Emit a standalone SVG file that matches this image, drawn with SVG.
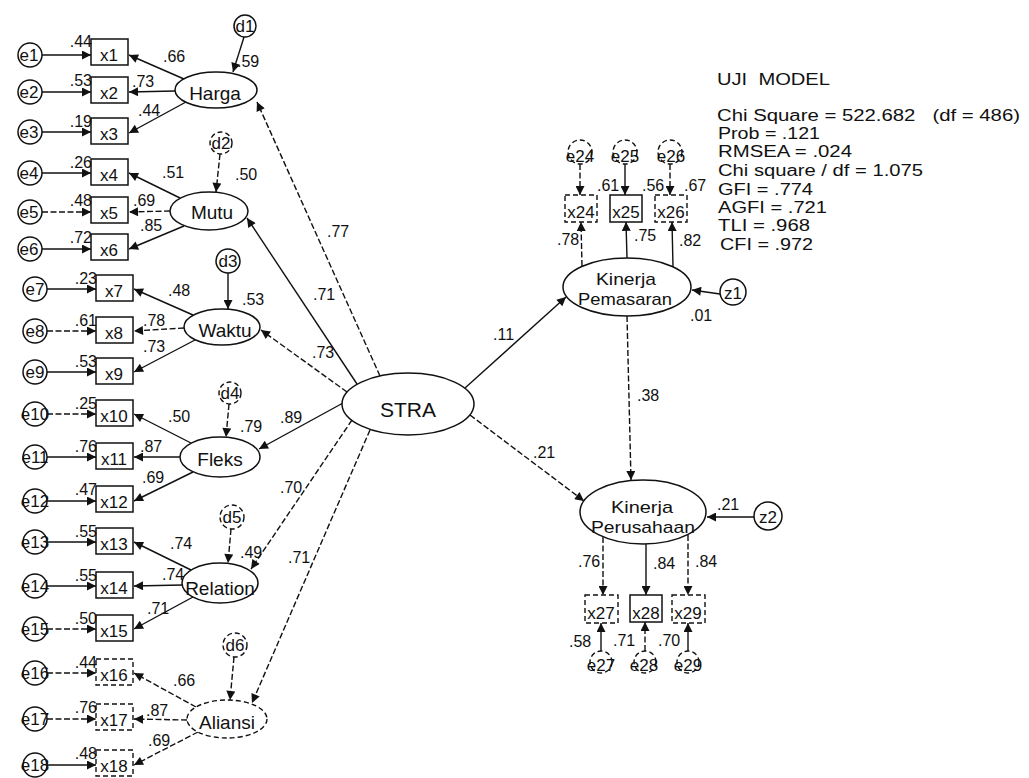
<svg xmlns="http://www.w3.org/2000/svg" width="1029" height="778" viewBox="0 0 1029 778">
<defs>
<marker id="ah" viewBox="0 0 10 10" refX="10" refY="5" markerWidth="12" markerHeight="9" markerUnits="userSpaceOnUse" orient="auto"><path d="M0,0 L10,5 L0,10 z" fill="#111"/></marker>
<style>
.ln{stroke:#111;stroke-width:1.4;fill:none}
.dash{stroke-dasharray:6 2.5}
.nd{fill:#fff;stroke:#111;stroke-width:1.5}
.ndd{fill:#fff;stroke:#111;stroke-width:1.4;stroke-dasharray:5 3}
text{font-family:"Liberation Sans",Arial,sans-serif;fill:#111}
.lb{font-size:16px}
.bx{font-size:17px;text-anchor:middle}
.nm{font-size:19px;text-anchor:middle}
.nm2{font-size:17px;text-anchor:middle}
.st{font-size:16px}
.end{text-anchor:end}
</style>
</defs>
<rect width="1029" height="778" fill="#fff"/>

<g id="connectors">
<!-- error to indicator -->
<line class="ln" x1="42" y1="55" x2="91" y2="55" marker-end="url(#ah)"/>
<line class="ln" x1="42" y1="92" x2="91" y2="92" marker-end="url(#ah)"/>
<line class="ln" x1="42" y1="132" x2="91" y2="132" marker-end="url(#ah)"/>
<line class="ln" x1="42" y1="173" x2="91" y2="173" marker-end="url(#ah)"/>
<line class="ln dash" x1="42" y1="212" x2="91" y2="212" marker-end="url(#ah)"/>
<line class="ln" x1="42" y1="249" x2="91" y2="249" marker-end="url(#ah)"/>
<line class="ln" x1="47" y1="289" x2="96" y2="289" marker-end="url(#ah)"/>
<line class="ln dash" x1="47" y1="331" x2="96" y2="331" marker-end="url(#ah)"/>
<line class="ln" x1="47" y1="372" x2="96" y2="372" marker-end="url(#ah)"/>
<line class="ln dash" x1="47" y1="414" x2="96" y2="414" marker-end="url(#ah)"/>
<line class="ln" x1="47" y1="457" x2="96" y2="457" marker-end="url(#ah)"/>
<line class="ln" x1="47" y1="501" x2="96" y2="501" marker-end="url(#ah)"/>
<line class="ln" x1="47" y1="542" x2="96" y2="542" marker-end="url(#ah)"/>
<line class="ln" x1="47" y1="586" x2="96" y2="586" marker-end="url(#ah)"/>
<line class="ln dash" x1="47" y1="629" x2="96" y2="629" marker-end="url(#ah)"/>
<line class="ln dash" x1="47" y1="673" x2="96" y2="673" marker-end="url(#ah)"/>
<line class="ln dash" x1="47" y1="719" x2="96" y2="719" marker-end="url(#ah)"/>
<line class="ln" x1="47" y1="765" x2="96" y2="765" marker-end="url(#ah)"/>
<!-- latent to indicators -->
<line class="ln" x1="184" y1="79" x2="129" y2="55" marker-end="url(#ah)"/>
<line class="ln" x1="175" y1="91" x2="129" y2="92" marker-end="url(#ah)"/>
<line class="ln" x1="186" y1="102" x2="129" y2="133" marker-end="url(#ah)"/>
<line class="ln" x1="180" y1="198" x2="129" y2="173" marker-end="url(#ah)"/>
<line class="ln dash" x1="170" y1="211" x2="129" y2="212" marker-end="url(#ah)"/>
<line class="ln" x1="184" y1="226" x2="129" y2="249" marker-end="url(#ah)"/>
<line class="ln" x1="193" y1="315" x2="134" y2="289" marker-end="url(#ah)"/>
<line class="ln dash" x1="184" y1="328" x2="134" y2="331" marker-end="url(#ah)"/>
<line class="ln" x1="195" y1="340" x2="134" y2="372" marker-end="url(#ah)"/>
<line class="ln" x1="191" y1="443" x2="134" y2="414" marker-end="url(#ah)"/>
<line class="ln" x1="180" y1="457" x2="134" y2="457" marker-end="url(#ah)"/>
<line class="ln" x1="193" y1="472" x2="134" y2="501" marker-end="url(#ah)"/>
<line class="ln" x1="191" y1="570" x2="134" y2="542" marker-end="url(#ah)"/>
<line class="ln" x1="182" y1="585" x2="134" y2="586" marker-end="url(#ah)"/>
<line class="ln" x1="193" y1="597" x2="134" y2="629" marker-end="url(#ah)"/>
<line class="ln dash" x1="196" y1="707" x2="134" y2="673" marker-end="url(#ah)"/>
<line class="ln dash" x1="187" y1="720" x2="134" y2="719" marker-end="url(#ah)"/>
<line class="ln dash" x1="198" y1="732" x2="134" y2="765" marker-end="url(#ah)"/>
<!-- disturbances -->
<line class="ln" x1="244" y1="37" x2="233" y2="72" marker-end="url(#ah)"/>
<line class="ln dash" x1="220" y1="154" x2="216" y2="192" marker-end="url(#ah)"/>
<line class="ln" x1="228" y1="273" x2="228" y2="309" marker-end="url(#ah)"/>
<line class="ln dash" x1="229" y1="404" x2="226" y2="437" marker-end="url(#ah)"/>
<line class="ln dash" x1="231" y1="529" x2="228" y2="563" marker-end="url(#ah)"/>
<line class="ln dash" x1="234" y1="657" x2="230" y2="700" marker-end="url(#ah)"/>
<!-- STRA structural paths -->
<line class="ln dash" x1="380" y1="376" x2="257" y2="102" marker-end="url(#ah)"/>
<line class="ln" x1="357" y1="384" x2="247" y2="218" marker-end="url(#ah)"/>
<line class="ln dash" x1="347" y1="392" x2="261" y2="330" marker-end="url(#ah)"/>
<line class="ln" x1="343" y1="403" x2="259" y2="449" marker-end="url(#ah)"/>
<line class="ln dash" x1="352" y1="420" x2="251" y2="569" marker-end="url(#ah)"/>
<line class="ln dash" x1="370" y1="430" x2="252" y2="703" marker-end="url(#ah)"/>
<line class="ln" x1="465" y1="388" x2="566" y2="297" marker-end="url(#ah)"/>
<line class="ln dash" x1="470" y1="415" x2="584" y2="501" marker-end="url(#ah)"/>
<line class="ln dash" x1="627" y1="316" x2="631" y2="480" marker-end="url(#ah)"/>
<line class="ln" x1="720" y1="294" x2="692" y2="290" marker-end="url(#ah)"/>
<line class="ln" x1="754" y1="517" x2="707" y2="517" marker-end="url(#ah)"/>
<!-- Kinerja Pemasaran indicators -->
<line class="ln dash" x1="582" y1="266" x2="581" y2="222" marker-end="url(#ah)"/>
<line class="ln" x1="627" y1="258" x2="626" y2="222" marker-end="url(#ah)"/>
<line class="ln" x1="673" y1="267" x2="672" y2="222" marker-end="url(#ah)"/>
<line class="ln dash" x1="580" y1="164" x2="580" y2="195" marker-end="url(#ah)"/>
<line class="ln" x1="625" y1="164" x2="625" y2="195" marker-end="url(#ah)"/>
<line class="ln dash" x1="670" y1="164" x2="670" y2="195" marker-end="url(#ah)"/>
<!-- Kinerja Perusahaan indicators -->
<line class="ln dash" x1="603" y1="537" x2="603" y2="595" marker-end="url(#ah)"/>
<line class="ln" x1="646" y1="544" x2="646" y2="595" marker-end="url(#ah)"/>
<line class="ln dash" x1="688" y1="535" x2="688" y2="595" marker-end="url(#ah)"/>
<line class="ln" x1="601" y1="651" x2="601" y2="623" marker-end="url(#ah)"/>
<line class="ln dash" x1="645" y1="651" x2="645" y2="622" marker-end="url(#ah)"/>
<line class="ln" x1="688" y1="651" x2="688" y2="623" marker-end="url(#ah)"/>
</g>

<g id="errors-left">
<g id="e1"><circle class="nd" cx="30" cy="55" r="12"/><text class="bx" x="29" y="61">e1</text></g>
<g id="e2"><circle class="nd" cx="30" cy="92" r="12"/><text class="bx" x="29" y="98">e2</text></g>
<g id="e3"><circle class="nd" cx="30" cy="132" r="12"/><text class="bx" x="29" y="138">e3</text></g>
<g id="e4"><circle class="nd" cx="30" cy="173" r="12"/><text class="bx" x="29" y="179">e4</text></g>
<g id="e5"><circle class="nd" cx="30" cy="212" r="12"/><text class="bx" x="29" y="218">e5</text></g>
<g id="e6"><circle class="nd" cx="30" cy="249" r="12"/><text class="bx" x="29" y="255">e6</text></g>
<g id="e7"><circle class="nd" cx="35" cy="289" r="12"/><text class="bx" x="35" y="295">e7</text></g>
<g id="e8"><circle class="nd" cx="35" cy="331" r="12"/><text class="bx" x="35" y="337">e8</text></g>
<g id="e9"><circle class="nd" cx="35" cy="372" r="12"/><text class="bx" x="35" y="378">e9</text></g>
<g id="e10"><circle class="nd" cx="35" cy="414" r="12"/><text class="bx" x="35" y="420">e10</text></g>
<g id="e11"><circle class="nd" cx="35" cy="457" r="12"/><text class="bx" x="35" y="463">e11</text></g>
<g id="e12"><circle class="nd" cx="35" cy="501" r="12"/><text class="bx" x="35" y="507">e12</text></g>
<g id="e13"><circle class="nd" cx="35" cy="542" r="12"/><text class="bx" x="35" y="548">e13</text></g>
<g id="e14"><circle class="nd" cx="35" cy="586" r="12"/><text class="bx" x="35" y="592">e14</text></g>
<g id="e15"><circle class="nd" cx="35" cy="629" r="12"/><text class="bx" x="35" y="635">e15</text></g>
<g id="e16"><circle class="nd" cx="35" cy="673" r="12"/><text class="bx" x="35" y="679">e16</text></g>
<g id="e17"><circle class="nd" cx="35" cy="719" r="12"/><text class="bx" x="35" y="725">e17</text></g>
<g id="e18"><circle class="nd" cx="35" cy="765" r="12"/><text class="bx" x="35" y="771">e18</text></g>
</g>

<g id="indicators-left">
<g id="x1"><rect class="nd" x="91" y="39" width="37" height="26"/><text class="bx" x="109" y="61">x1</text><text class="lb end" x="92" y="47">.44</text></g>
<g id="x2"><rect class="nd" x="91" y="77" width="37" height="26"/><text class="bx" x="109" y="99">x2</text><text class="lb end" x="92" y="86">.53</text></g>
<g id="x3"><rect class="nd" x="91" y="118" width="37" height="26"/><text class="bx" x="109" y="140">x3</text><text class="lb end" x="92" y="127">.19</text></g>
<g id="x4"><rect class="nd" x="91" y="159" width="37" height="26"/><text class="bx" x="109" y="181">x4</text><text class="lb end" x="92" y="168">.26</text></g>
<g id="x5"><rect class="nd" x="91" y="197" width="37" height="26"/><text class="bx" x="109" y="219">x5</text><text class="lb end" x="92" y="206">.48</text></g>
<g id="x6"><rect class="nd" x="91" y="234" width="37" height="26"/><text class="bx" x="109" y="256">x6</text><text class="lb end" x="92" y="243">.72</text></g>
<g id="x7"><rect class="nd" x="96" y="275" width="37" height="26"/><text class="bx" x="114" y="297">x7</text><text class="lb end" x="97" y="284">.23</text></g>
<g id="x8"><rect class="nd" x="96" y="317" width="37" height="26"/><text class="bx" x="114" y="339">x8</text><text class="lb end" x="97" y="326">.61</text></g>
<g id="x9"><rect class="nd" x="96" y="358" width="37" height="26"/><text class="bx" x="114" y="380">x9</text><text class="lb end" x="97" y="367">.53</text></g>
<g id="x10"><rect class="nd" x="96" y="400" width="37" height="26"/><text class="bx" x="114" y="422">x10</text><text class="lb end" x="97" y="409">.25</text></g>
<g id="x11"><rect class="nd" x="96" y="443" width="37" height="26"/><text class="bx" x="114" y="465">x11</text><text class="lb end" x="97" y="452">.76</text></g>
<g id="x12"><rect class="nd" x="96" y="486" width="37" height="26"/><text class="bx" x="114" y="508">x12</text><text class="lb end" x="97" y="495">.47</text></g>
<g id="x13"><rect class="nd" x="96" y="528" width="37" height="26"/><text class="bx" x="114" y="550">x13</text><text class="lb end" x="97" y="537">.55</text></g>
<g id="x14"><rect class="nd" x="96" y="572" width="37" height="26"/><text class="bx" x="114" y="594">x14</text><text class="lb end" x="97" y="581">.55</text></g>
<g id="x15"><rect class="nd" x="96" y="615" width="37" height="26"/><text class="bx" x="114" y="637">x15</text><text class="lb end" x="97" y="624">.50</text></g>
<g id="x16"><rect class="ndd" x="96" y="659" width="37" height="26"/><text class="bx" x="114" y="681">x16</text><text class="lb end" x="97" y="668">.44</text></g>
<g id="x17"><rect class="ndd" x="96" y="704" width="37" height="26"/><text class="bx" x="114" y="726">x17</text><text class="lb end" x="97" y="713">.76</text></g>
<g id="x18"><rect class="ndd" x="96" y="750" width="37" height="26"/><text class="bx" x="114" y="772">x18</text><text class="lb end" x="97" y="759">.48</text></g>
</g>

<g id="loadings-left" class="lb">
<text x="163" y="62">.66</text>
<text x="132" y="87">.73</text>
<text x="138" y="116">.44</text>
<text x="162" y="178">.51</text>
<text x="133" y="206">.69</text>
<text x="140" y="231">.85</text>
<text x="168" y="296">.48</text>
<text x="143" y="326">.78</text>
<text x="143" y="352">.73</text>
<text x="168" y="422">.50</text>
<text x="140" y="452">.87</text>
<text x="142" y="483">.69</text>
<text x="170" y="549">.74</text>
<text x="162" y="580">.74</text>
<text x="147" y="614">.71</text>
<text x="173" y="686">.66</text>
<text x="146" y="716">.87</text>
<text x="148" y="746">.69</text>
</g>

<g id="disturbances">
<g id="d1"><circle class="nd" cx="245" cy="26" r="11"/><text class="bx" x="245" y="32">d1</text><text class="lb" x="237" y="67">.59</text></g>
<g id="d2"><circle class="ndd" cx="221" cy="143" r="11"/><text class="bx" x="221" y="149">d2</text><text class="lb" x="235" y="180">.50</text></g>
<g id="d3"><circle class="nd" cx="228" cy="261" r="12"/><text class="bx" x="228" y="267">d3</text><text class="lb" x="242" y="305">.53</text></g>
<g id="d4"><circle class="ndd" cx="230" cy="393" r="11"/><text class="bx" x="230" y="399">d4</text><text class="lb" x="240" y="432">.79</text></g>
<g id="d5"><circle class="ndd" cx="232" cy="517" r="12"/><text class="bx" x="232" y="523">d5</text><text class="lb" x="240" y="558">.49</text></g>
<g id="d6"><circle class="ndd" cx="235" cy="645" r="12"/><text class="bx" x="235" y="651">d6</text></g>
</g>

<g id="Harga"><ellipse class="nd" cx="216" cy="90" rx="41" ry="18"/><text class="nm" x="215" y="100">Harga</text></g>
<g id="Mutu"><ellipse class="nd" cx="209" cy="211" rx="39" ry="19"/><text class="nm" x="212" y="219">Mutu</text></g>
<g id="Waktu"><ellipse class="nd" cx="222" cy="327" rx="38" ry="18"/><text class="nm" x="225" y="337">Waktu</text></g>
<g id="Fleks"><ellipse class="nd" cx="220" cy="457" rx="40" ry="20"/><text class="nm" x="220" y="466">Fleks</text></g>
<g id="Relation"><ellipse class="nd" cx="220" cy="583" rx="38" ry="20"/><text class="nm" x="220" y="595">Relation</text></g>
<g id="Aliansi"><ellipse class="ndd" cx="227" cy="719" rx="40" ry="19"/><text class="nm" x="227" y="729">Aliansi</text></g>

<g id="STRA"><ellipse class="nd" cx="408" cy="404" rx="66" ry="31"/><text x="408" y="417" font-size="21" text-anchor="middle">STRA</text></g>

<g id="loadings-struct" class="lb">
<text x="327" y="237">.77</text>
<text x="313" y="300">.71</text>
<text x="312" y="358">.73</text>
<text x="280" y="423">.89</text>
<text x="280" y="493">.70</text>
<text x="288" y="563">.71</text>
<text x="493" y="340">.11</text>
<text x="533" y="458">.21</text>
<text x="637" y="401">.38</text>
<text x="690" y="321">.01</text>
<text x="717" y="510">.21</text>
</g>

<g id="KinerjaPemasaran"><ellipse class="nd" cx="627" cy="287" rx="64" ry="29"/><text class="nm2" x="626" y="285" textLength="60" lengthAdjust="spacingAndGlyphs">Kinerja</text><text class="nm2" x="625" y="305" textLength="94" lengthAdjust="spacingAndGlyphs">Pemasaran</text></g>
<g id="z1"><circle class="nd" cx="733" cy="292" r="13"/><text class="bx" x="733" y="299">z1</text></g>

<g id="KinerjaPerusahaan"><ellipse class="nd" cx="643" cy="512" rx="63" ry="32"/><text class="nm2" x="642" y="513" textLength="62" lengthAdjust="spacingAndGlyphs">Kinerja</text><text class="nm2" x="643" y="533" textLength="104" lengthAdjust="spacingAndGlyphs">Perusahaan</text></g>
<g id="z2"><circle class="nd" cx="768" cy="516" r="14"/><text class="bx" x="768" y="523">z2</text></g>

<g id="top-indicators">
<g id="e24"><circle class="ndd" cx="580" cy="152" r="12"/><text class="bx" x="580" y="162">e24</text></g>
<g id="e25"><circle class="ndd" cx="625" cy="152" r="12"/><text class="bx" x="625" y="162">e25</text></g>
<g id="e26"><circle class="ndd" cx="670" cy="152" r="12"/><text class="bx" x="671" y="162">e26</text></g>
<g id="x24"><rect class="ndd" x="565" y="195" width="32" height="27"/><text class="bx" x="581" y="218">x24</text></g>
<g id="x25"><rect class="nd" x="610" y="195" width="32" height="27"/><text class="bx" x="626" y="218">x25</text></g>
<g id="x26"><rect class="ndd" x="655" y="195" width="32" height="27"/><text class="bx" x="671" y="218">x26</text></g>
<text class="lb" x="597" y="191">.61</text>
<text class="lb" x="642" y="191">.56</text>
<text class="lb" x="684" y="191">.67</text>
<text class="lb" x="557" y="245">.78</text>
<text class="lb" x="634" y="241">.75</text>
<text class="lb" x="679" y="246">.82</text>
</g>

<g id="bottom-indicators">
<g id="x27"><rect class="ndd" x="585" y="595" width="33" height="28"/><text class="bx" x="601" y="619">x27</text></g>
<g id="x28"><rect class="nd" x="630" y="595" width="32" height="27"/><text class="bx" x="646" y="619">x28</text></g>
<g id="x29"><rect class="ndd" x="672" y="595" width="33" height="28"/><text class="bx" x="688" y="619">x29</text></g>
<g id="e27"><circle class="ndd" cx="601" cy="662" r="11"/><text class="bx" x="601" y="671">e27</text></g>
<g id="e28"><circle class="ndd" cx="645" cy="662" r="11"/><text class="bx" x="644" y="671">e28</text></g>
<g id="e29"><circle class="ndd" cx="688" cy="662" r="11"/><text class="bx" x="688" y="671">e29</text></g>
<text class="lb" x="578" y="567">.76</text>
<text class="lb" x="653" y="569">.84</text>
<text class="lb" x="695" y="567">.84</text>
<text class="lb" x="569" y="647">.58</text>
<text class="lb" x="613" y="646">.71</text>
<text class="lb" x="658" y="646">.70</text>
</g>

<g id="model-fit" class="st">
<text x="717" y="85" xml:space="preserve" textLength="113" lengthAdjust="spacingAndGlyphs">UJI  MODEL</text>
<text x="717" y="121" xml:space="preserve" textLength="303" lengthAdjust="spacingAndGlyphs">Chi Square = 522.682   (df = 486)</text>
<text x="718" y="139" textLength="102" lengthAdjust="spacingAndGlyphs">Prob = .121</text>
<text x="718" y="157" textLength="134" lengthAdjust="spacingAndGlyphs">RMSEA = .024</text>
<text x="718" y="176" textLength="205" lengthAdjust="spacingAndGlyphs">Chi square / df = 1.075</text>
<text x="718" y="195" textLength="95" lengthAdjust="spacingAndGlyphs">GFI = .774</text>
<text x="718" y="213" textLength="109" lengthAdjust="spacingAndGlyphs">AGFI = .721</text>
<text x="718" y="231" textLength="92" lengthAdjust="spacingAndGlyphs">TLI = .968</text>
<text x="720" y="250" textLength="93" lengthAdjust="spacingAndGlyphs">CFI = .972</text>
</g>
</svg>
